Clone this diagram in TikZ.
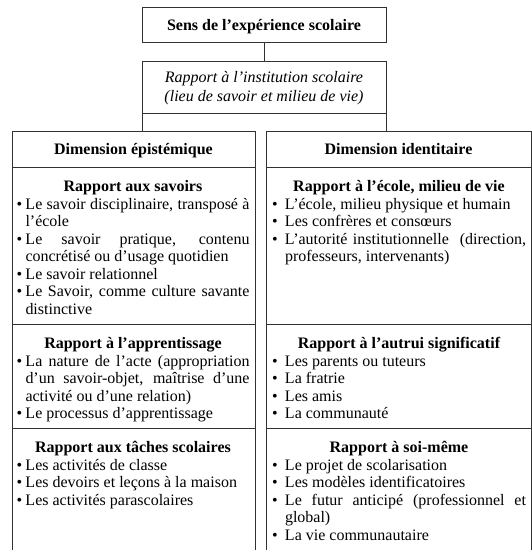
\documentclass[tikz,border=0pt]{standalone}
\usepackage{fontspec}
\setmainfont{Liberation Serif}
\definecolor{linec}{RGB}{50,50,50}
\newcommand{\bitem}[2][9pt]{\par\hangindent=#1\hangafter=1\noindent\makebox[#1][l]{•}#2\par}
\newcommand{\shead}[1]{{\centering\bfseries\strut #1\par}}
\begin{document}
\begin{tikzpicture}[x=1pt,y=-1pt,
  every node/.style={font=\fontsize{16}{17.5}\selectfont},
  frame/.style={draw=linec, line width=0.9pt, inner sep=0pt, outer sep=0pt, anchor=north west},
  onel/.style={text height=11pt, text depth=0pt, font=\fontsize{16}{17.5}\selectfont\bfseries},
  txt/.style={inner sep=0pt, outer sep=0pt, anchor=north west, align=justify},
  conn/.style={draw=linec, line width=0.9pt}]
\useasboundingbox (0,0) rectangle (532,550);
\clip (0,0) rectangle (532,550);
% top boxes
\node[frame, onel, minimum width=244pt, minimum height=35pt] (top) at (142,7) {Sens de l’expérience scolaire};
\node[frame, minimum width=244pt, minimum height=52pt, align=center, font=\fontsize{16}{19}\selectfont\itshape] (inst) at (142,61) {\rule{0pt}{15pt}Rapport à l’institution scolaire\\(lieu de savoir et milieu de vie)\rule[-5pt]{0pt}{5pt}};
% dimension headers
\node[frame, onel, minimum width=243pt, minimum height=36pt] (depi) at (12,131) {Dimension épistémique};
\node[frame, onel, minimum width=265pt, minimum height=36pt] (did) at (266,131) {Dimension identitaire};
% section frames
\node[frame, minimum width=243pt, minimum height=157pt] (s1l) at (12,167) {};
\node[frame, minimum width=243pt, minimum height=104pt] (s2l) at (12,324) {};
\node[frame, minimum width=243pt, minimum height=132pt] (s3l) at (12,428) {};
\node[frame, minimum width=265pt, minimum height=157pt] (s1r) at (266,167) {};
\node[frame, minimum width=265pt, minimum height=104pt] (s2r) at (266,324) {};
\node[frame, minimum width=265pt, minimum height=132pt] (s3r) at (266,428) {};
% connectors
\draw[conn] (top.south) -- (inst.north);
\draw[conn] (inst.south west) -- (inst.south west |- depi.north);
\draw[conn] (inst.south east) -- (inst.south east |- did.north);
% left column texts
\node[txt, text width=233pt] (t1l) at ([xshift=4.5pt,yshift=-12.5pt]s1l.north west) {%
\shead{Rapport aux savoirs}
\bitem{Le savoir disciplinaire, transposé à\linebreak l’école}
\bitem{Le savoir pratique, contenu\linebreak concrétisé ou d’usage quotidien}
\bitem{Le savoir relationnel}
\bitem{Le Savoir, comme culture savante\linebreak distinctive}};
\node[txt, text width=233pt] (t2l) at ([xshift=4.5pt,yshift=-12.5pt]s2l.north west) {%
\shead{Rapport à l’apprentissage}
\bitem{La nature de l’acte (appropriation\linebreak d’un savoir-objet, maîtrise d’une\linebreak activité ou d’une relation)}
\bitem{Le processus d’apprentissage}};
\node[txt, text width=233pt] (t3l) at ([xshift=4.5pt,yshift=-12.5pt]s3l.north west) {%
\shead{Rapport aux tâches scolaires}
\bitem{Les activités de classe}
\bitem{Les devoirs et leçons à la maison}
\bitem{Les activités parascolaires}};
% right column texts
\node[txt, text width=254pt] (t1r) at ([xshift=6pt,yshift=-12.5pt]s1r.north west) {%
\shead{Rapport à l’école, milieu de vie}
\bitem[13pt]{L’école, milieu physique et humain}
\bitem[13pt]{Les confrères et consœurs}
\bitem[13pt]{L’autorité institutionnelle\ \ (direction,\linebreak professeurs, intervenants)}};
\node[txt, text width=254pt] (t2r) at ([xshift=6pt,yshift=-12.5pt]s2r.north west) {%
\shead{Rapport à l’autrui significatif}
\bitem[13pt]{Les parents ou tuteurs}
\bitem[13pt]{La fratrie}
\bitem[13pt]{Les amis}
\bitem[13pt]{La communauté}};
\node[txt, text width=254pt] (t3r) at ([xshift=6pt,yshift=-12.5pt]s3r.north west) {%
\shead{Rapport à soi-même}
\bitem[13pt]{Le projet de scolarisation}
\bitem[13pt]{Les modèles identificatoires}
\bitem[13pt]{Le futur anticipé (professionnel et\linebreak global)}
\bitem[13pt]{La vie communautaire}};
\end{tikzpicture}
\end{document}
